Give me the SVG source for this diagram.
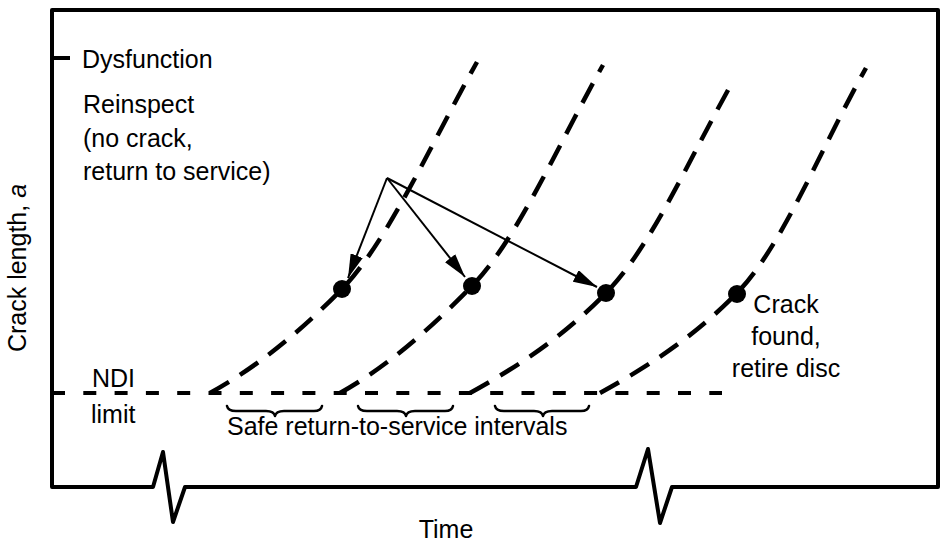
<svg xmlns="http://www.w3.org/2000/svg" width="942" height="546" viewBox="0 0 942 546">
<style>
  .t { font-family: "Liberation Sans", Arial, Helvetica, sans-serif; font-size: 25px; fill: #000; }
  .frame { fill: none; stroke: #000; stroke-width: 4; stroke-linejoin: round; }
  .curve { fill: none; stroke: #000; stroke-width: 4.5; stroke-dasharray: 22 13; }
  .ndi { fill: none; stroke: #000; stroke-width: 4; stroke-dasharray: 13 18.3; }
  .brace { fill: none; stroke: #000; stroke-width: 2.5; stroke-linecap: round; stroke-linejoin: round; }
  .arrow { fill: none; stroke: #000; stroke-width: 2; marker-end: url(#ah); }
  .dot { fill: #000; }
</style>
<defs>
  <marker id="ah" markerWidth="25" markerHeight="13" refX="24" refY="6.5" orient="auto" markerUnits="userSpaceOnUse">
    <path d="M0,0 L24,6.5 L0,13 Z" fill="#000"/>
  </marker>
</defs>
<rect width="942" height="546" fill="#fff"/>

<g id="axes">
  <path class="frame" d="M52,10 L52,487 L153,487 L163,452 L173,522 L185,487 L636,487 L648,449 L660,523 L672,487 L938,487 L938,10 Z"/>
  <line x1="52" y1="58" x2="70" y2="58" stroke="#000" stroke-width="4"/>
  <text class="t" transform="translate(26,268) rotate(-90)" text-anchor="middle">Crack length, <tspan font-style="italic">a</tspan></text>
  <text class="t" x="446" y="538" text-anchor="middle">Time</text>
</g>

<g id="ndi-limit">
  <line class="ndi" x1="52" y1="393" x2="722" y2="393"/>
  <text class="t" x="92" y="387">NDI</text>
  <text class="t" x="91" y="423">limit</text>
</g>

<g id="curves">
  <path class="curve" d="M210,393 C255,368 297,335 342,289 C387,243 432,142 477,62"/>
  <path class="curve" d="M340,393 C385,368 427,332 472,286 C517,240 558,145 603,65"/>
  <path class="curve" d="M470,393 C515,368 561,339 606,293 C651,247 687,163 732,83"/>
  <path class="curve" d="M600,393 C645,368 692,339 737,293 C782,247 821,148 866,68"/>
</g>

<g id="inspections">
  <circle class="dot" cx="342" cy="289" r="9"/>
  <circle class="dot" cx="472" cy="286" r="9"/>
  <circle class="dot" cx="606" cy="293" r="9"/>
</g>

<g id="crack-found">
  <circle class="dot" cx="737" cy="294" r="9"/>
  <text class="t" x="786" y="313" text-anchor="middle">Crack</text>
  <text class="t" x="786" y="345" text-anchor="middle">found,</text>
  <text class="t" x="786" y="377" text-anchor="middle">retire disc</text>
</g>

<g id="dysfunction">
  <text class="t" x="82" y="68">Dysfunction</text>
</g>

<g id="reinspect">
  <text class="t" x="83" y="113">Reinspect</text>
  <text class="t" x="83" y="147">(no crack,</text>
  <text class="t" x="83" y="180">return to service)</text>
</g>

<g id="connectors">
  <line class="arrow" x1="387" y1="178" x2="348" y2="278"/>
  <line class="arrow" x1="387" y1="178" x2="465" y2="277"/>
  <line class="arrow" x1="387" y1="178" x2="597" y2="287"/>
</g>

<g id="intervals">
  <path class="brace" d="M227,406 Q228,411 236,411 L266,411 Q274,411 275,416 Q276,411 284,411 L314,411 Q321,411 322,406"/>
  <path class="brace" d="M358,406 Q359,411 367,411 L397,411 Q405,411 406,416 Q407,411 415,411 L445,411 Q452,411 453,406"/>
  <path class="brace" d="M495,406 Q496,411 504,411 L534,411 Q542,411 543,416 Q544,411 552,411 L581,411 Q588,411 589,406"/>
  <text class="t" x="227" y="435">Safe return-to-service intervals</text>
</g>
</svg>
